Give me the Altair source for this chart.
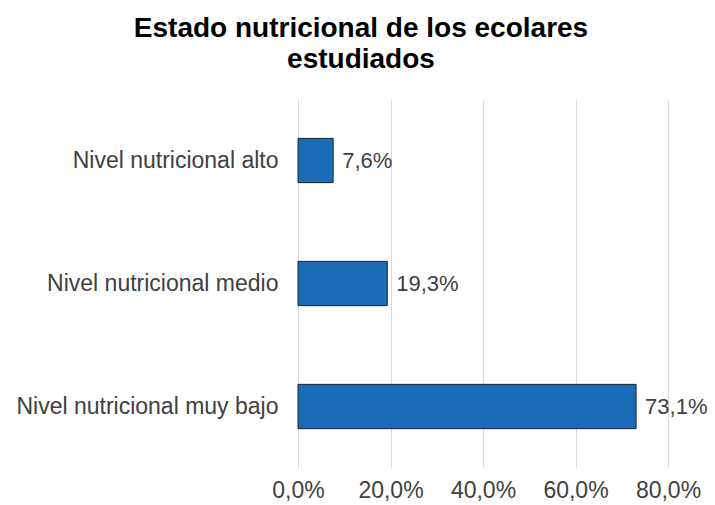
import altair as alt
import pandas as pd

categories = ["Nivel nutricional alto", "Nivel nutricional medio", "Nivel nutricional muy bajo"]
values = [7.6, 19.3, 73.1]
x_ticks = [0, 20, 40, 60, 80]

df = pd.DataFrame({"cat": categories, "val": values})

FONT = "Liberation Sans"
FS = 23

base = alt.Chart(df).encode(
    y=alt.Y("cat:N", sort=categories, title=None,
            scale=alt.Scale(paddingInner=0.64, paddingOuter=0.32),
            axis=alt.Axis(domain=False, ticks=False, labelFontSize=FS, labelFont=FONT,
                          labelColor="#404040", labelPadding=20, labelLimit=400, grid=False)),
)

bars = base.mark_bar(color="#1a6cb6", stroke="#1b2633", strokeWidth=1).encode(
    x=alt.X("val:Q", title=None,
            scale=alt.Scale(domain=[0, 80], nice=False),
            axis=alt.Axis(values=x_ticks, domain=False, ticks=False, labelFontSize=FS,
                          labelFont=FONT, labelColor="#404040", labelPadding=11,
                          labelOverlap=False, labelFlush=False, labelBound=False,
                          gridColor="#d9d9d9", gridWidth=1,
                          labelExpr="replace(format(datum.value, '.1f'), '.', ',') + '%'"))
)

labels = base.mark_text(align="left", dx=9, fontSize=22, font=FONT, color="#404040").transform_calculate(
    lbl="replace(format(datum.val, '.1f'), '.', ',') + '%'"
).encode(x="val:Q", text="lbl:N")

chart = (bars + labels).properties(
    width=370, height=369,
    autosize=alt.AutoSizeParams(type="none"),
    padding={"left": 290, "top": 91, "right": 39, "bottom": 36},
    title=alt.TitleParams(["Estado nutricional de los ecolares", "estudiados"],
                          fontSize=28, font=FONT, fontWeight="bold", color="#000000",
                          anchor="middle", dx=-122, offset=25, lineHeight=31),
).configure_view(stroke=None)

chart.save("out.html", embed_options={"renderer": "svg", "actions": False})
